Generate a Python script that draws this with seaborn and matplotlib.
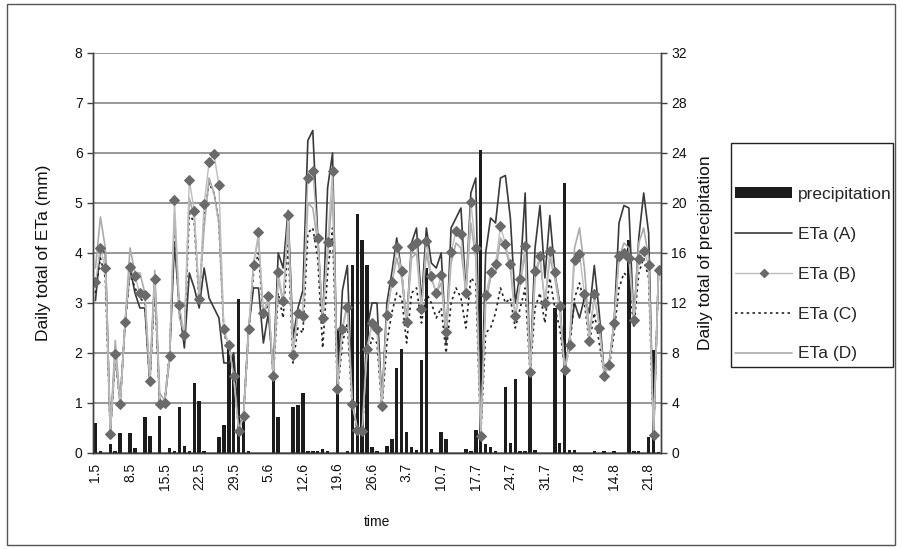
import numpy as np
import pandas as pd
import matplotlib
matplotlib.use("Agg")
import matplotlib.pyplot as plt
import seaborn as sns
from matplotlib.lines import Line2D
from matplotlib.patches import Patch, Rectangle

# labels shown every 7 days (1 May .. 23 Aug)
tick_labels = ['1.5', '8.5', '15.5', '22.5', '29.5', '5.6', '12.6', '19.6', '26.6',
               '3.7', '10.7', '17.7', '24.7', '31.7', '7.8', '14.8', '21.8']

precipitation = [2.4, 0.13, 0, 0.7, 0.19, 1.63, 0, 1.63, 0.37, 0,
                 2.85, 1.39, 0, 2.99, 0, 0.37, 0.13, 3.68, 0.59, 0.13,
                 5.6, 4.13, 0.13, 0, 0, 1.3, 2.2, 8.35, 7.76, 12.3,
                 2.6, 0.16, 0, 0, 0, 0, 6.1, 2.85, 0, 0,
                 3.65, 3.87, 4.77, 0.13, 0.13, 0.13, 0.35, 0.13, 0, 9.8,
                 0, 0.16, 15.0, 19.1, 17.0, 15.0, 0.45, 0.13, 0, 0.58,
                 1.15, 6.77, 8.35, 1.7, 0.45, 0.24, 7.41, 14.8, 0.35, 0,
                 1.7, 1.15, 0, 0, 0, 0.35, 0.13, 1.84, 24.2, 0.69,
                 0.45, 0.13, 0, 5.25, 0.83, 5.95, 0.13, 0.13, 6.5, 0.24,
                 0, 0, 0, 11.6, 0.83, 21.6, 0.24, 0.24, 0, 0,
                 0, 0.13, 0, 0.13, 0, 0.13, 0, 0, 17.0, 0.13,
                 0.13, 0, 1.25, 8.24, 0.1]

eta_a = [3.05, 4.10, 4.00, 0.40, 2.00, 1.00, 2.60, 3.70, 3.20, 2.90,
         2.90, 1.40, 3.50, 1.00, 1.00, 1.90, 4.20, 2.90, 2.10, 3.60,
         3.30, 2.90, 3.70, 3.10, 2.90, 2.70, 1.80, 1.80, 2.00, 0.50,
         0.80, 2.50, 3.30, 3.30, 2.20, 2.80, 1.60, 4.00, 3.70, 4.85,
         2.30, 2.90, 3.25, 6.25, 6.45, 4.35, 2.60, 5.30, 6.00, 1.30,
         3.25, 3.75, 1.00, 0.50, 0.50, 2.50, 3.00, 3.00, 1.00, 3.00,
         3.60, 4.30, 3.60, 2.60, 4.20, 4.50, 3.00, 4.50, 3.80, 3.70,
         4.00, 2.20, 4.50, 4.70, 4.90, 3.20, 5.20, 5.50, 0.30, 4.00,
         4.70, 4.60, 5.50, 5.55, 4.70, 3.00, 3.60, 5.20, 1.60, 4.10,
         4.95, 3.50, 4.75, 3.60, 3.00, 1.60, 2.30, 3.00, 2.70, 3.10,
         2.80, 3.75, 2.80, 1.60, 1.80, 2.60, 4.60, 4.95, 4.90, 2.60,
         4.30, 5.20, 4.40, 0.35, 3.65]

eta_b = [3.41, 4.10, 3.69, 0.37, 1.97, 0.97, 2.62, 3.71, 3.53, 3.19,
         3.15, 1.43, 3.47, 0.97, 1.00, 1.93, 5.06, 2.96, 2.35, 5.46,
         4.84, 3.08, 4.98, 5.81, 5.97, 5.35, 2.48, 2.16, 1.53, 0.43,
         0.73, 2.48, 3.76, 4.41, 2.79, 3.14, 1.53, 3.61, 3.04, 4.75,
         1.96, 2.79, 2.73, 5.49, 5.64, 4.30, 2.69, 4.21, 5.64, 1.27,
         2.47, 2.91, 0.97, 0.46, 0.43, 2.07, 2.59, 2.47, 0.94, 2.76,
         3.41, 4.11, 3.64, 2.62, 4.13, 4.21, 2.87, 4.24, 3.53, 3.19,
         3.56, 2.42, 4.01, 4.44, 4.38, 3.19, 5.01, 4.10, 0.34, 3.16,
         3.61, 3.78, 4.53, 4.18, 3.78, 2.73, 3.47, 4.13, 1.62, 3.64,
         3.93, 3.00, 4.04, 3.61, 2.93, 1.65, 2.15, 3.85, 3.98, 3.18,
         2.23, 3.18, 2.49, 1.53, 1.76, 2.59, 3.94, 3.99, 3.89, 2.65,
         3.87, 4.04, 3.76, 0.36, 3.65]

eta_c = [3.20, 3.90, 3.50, 0.40, 1.90, 1.00, 2.60, 3.60, 3.30, 3.10,
         3.00, 1.40, 3.30, 1.00, 1.00, 2.00, 4.50, 2.80, 2.30, 4.80,
         4.60, 3.00, 4.70, 5.40, 5.20, 4.60, 2.40, 2.10, 1.60, 0.45,
         0.75, 2.40, 3.60, 4.00, 2.70, 3.00, 1.50, 3.20, 2.70, 4.20,
         1.80, 2.50, 2.40, 4.40, 4.50, 3.90, 2.10, 3.60, 4.50, 1.20,
         2.20, 2.60, 0.90, 0.45, 0.45, 1.90, 2.30, 2.20, 0.90, 2.20,
         2.80, 3.20, 3.10, 2.20, 3.20, 3.30, 2.60, 3.20, 3.00, 2.70,
         2.90, 2.00, 3.00, 3.30, 3.10, 2.50, 3.50, 3.40, 0.35, 2.40,
         2.50, 2.80, 3.30, 3.00, 3.10, 2.50, 2.90, 3.30, 1.60, 2.90,
         3.20, 2.60, 3.50, 2.90, 2.50, 1.70, 2.10, 3.10, 3.40, 3.00,
         2.20, 2.80, 2.20, 1.60, 1.70, 2.40, 3.30, 3.60, 3.50, 2.50,
         3.60, 3.90, 3.50, 0.35, 3.65]

eta_d = [3.70, 4.72, 4.10, 0.40, 2.25, 1.00, 2.60, 4.10, 3.60, 3.60,
         3.20, 1.50, 3.65, 1.20, 1.05, 1.90, 4.80, 2.70, 2.40, 5.10,
         4.70, 3.10, 4.50, 5.50, 5.20, 4.60, 2.40, 2.20, 1.50, 0.45,
         0.80, 2.40, 3.80, 4.30, 2.70, 3.10, 1.50, 3.50, 3.00, 4.60,
         2.00, 2.80, 2.80, 5.00, 4.90, 4.20, 2.70, 4.00, 5.20, 1.30,
         2.50, 3.00, 1.00, 0.50, 0.45, 2.10, 2.60, 2.50, 1.00, 2.80,
         3.40, 3.90, 3.50, 2.60, 3.90, 4.00, 2.90, 4.00, 3.50, 3.20,
         3.40, 2.40, 3.80, 4.20, 4.10, 3.20, 4.60, 3.90, 0.35, 3.00,
         3.50, 3.60, 4.30, 4.10, 3.70, 2.70, 3.40, 4.00, 1.60, 3.50,
         3.90, 3.00, 3.90, 3.50, 2.90, 1.70, 2.20, 4.10, 4.50, 3.70,
         2.40, 3.10, 2.60, 1.60, 1.80, 2.60, 3.90, 4.20, 4.10, 2.70,
         4.20, 4.50, 3.90, 0.35, 3.65]

sns.set_theme(style='white')
plt.rcParams['font.family'] = ['Liberation Sans', 'DejaVu Sans']

n = len(precipitation)
df = pd.DataFrame({'day': np.arange(n), 'precipitation': precipitation,
                   'A': eta_a, 'B': eta_b, 'C': eta_c, 'D': eta_d})

fig = plt.figure(figsize=(9.02, 5.49), dpi=100)
ax = fig.add_axes([0.1031, 0.1749, 0.6297, 0.7286])
ax2 = ax.twinx()

# precipitation bars on the right axis, behind the lines
sns.barplot(data=df, x='day', y='precipitation', ax=ax2, color='#1c1c1c',
            saturation=1, width=0.7, edgecolor='none')
ax2.set_ylim(0, 32)
ax2.set_yticks(np.arange(0, 33, 4))
ax2.yaxis.grid(True, color='#7a7a7a', linewidth=1.1)
ax2.set_axisbelow(True)
ax2.set_ylabel('Daily total of precipitation', fontsize=12.5, color='#111111', labelpad=8)

ax.set_zorder(ax2.get_zorder() + 1)
ax.patch.set_visible(False)

sns.lineplot(data=df, x='day', y='A', ax=ax, color='#3a3a3a', linewidth=1.2)
sns.lineplot(data=df, x='day', y='C', ax=ax, color='#222222', linewidth=1.2,
             linestyle=(0, (1.5, 2)))
sns.lineplot(data=df, x='day', y='D', ax=ax, color='#ababab', linewidth=1.2)
sns.lineplot(data=df, x='day', y='B', ax=ax, color='#bdbdbd', linewidth=1.0,
             marker='D', markersize=5.5, markerfacecolor='#6a6a6a',
             markeredgecolor='#6a6a6a')

ax.set_ylim(0, 8)
ax.set_yticks(np.arange(0, 9, 1))
ax.set_xlim(-0.5, n - 0.5)
ax.set_ylabel('Daily total of ETa (mm)', fontsize=12.5, color='#111111', labelpad=17)
ax.set_xlabel('time', fontsize=10, color='#111111', labelpad=18)

label_pos = np.arange(0, n, 7)[:len(tick_labels)]
ax.set_xticks(label_pos)
ax.set_xticklabels(tick_labels, rotation=90)
ax.set_xticks(label_pos - 0.5, minor=True)
ax.tick_params(axis='x', which='major', length=0, labelsize=10, pad=7, colors='#111111')
ax.tick_params(axis='x', which='minor', length=4, width=1, color='#404040', direction='out')
ax.tick_params(axis='y', length=4, width=1, color='#404040', labelsize=10,
               direction='out', left=True, labelcolor='#111111')
ax2.tick_params(axis='y', length=4, width=1, color='#404040', labelsize=10,
                direction='out', right=True, labelcolor='#111111')

for a in (ax, ax2):
    a.spines['top'].set_visible(False)
    for s in ('left', 'right', 'bottom'):
        a.spines[s].set_color('#404040')
        a.spines[s].set_linewidth(1)

handles = [Patch(facecolor='#1c1c1c', edgecolor='none'),
           Line2D([], [], color='#3a3a3a', linewidth=1.2),
           Line2D([], [], color='#bdbdbd', linewidth=1.0, marker='D', markersize=4.5,
                  markerfacecolor='#6a6a6a', markeredgecolor='#6a6a6a'),
           Line2D([], [], color='#222222', linewidth=1.2, linestyle=(0, (1.5, 2))),
           Line2D([], [], color='#ababab', linewidth=1.2)]
fig.legend(handles, ['precipitation', 'ETa (A)', 'ETa (B)', 'ETa (C)', 'ETa (D)'],
           loc='upper left', bbox_to_anchor=(0.8149, 0.6593), fontsize=12.5,
           frameon=False, handlelength=3.3, handletextpad=0.35, handleheight=0.6,
           labelspacing=1.43, borderpad=0, borderaxespad=0)

# legend box and chart border
fig.patches.append(Rectangle((0.8104, 0.3315), 0.1796, 0.408, transform=fig.transFigure,
                             fill=False, edgecolor='#222222', linewidth=1))
fig.patches.append(Rectangle((0.008, 0.007), 0.984, 0.986, transform=fig.transFigure,
                             fill=False, edgecolor='#555555', linewidth=1))

fig.savefig('out.png', dpi=100)
